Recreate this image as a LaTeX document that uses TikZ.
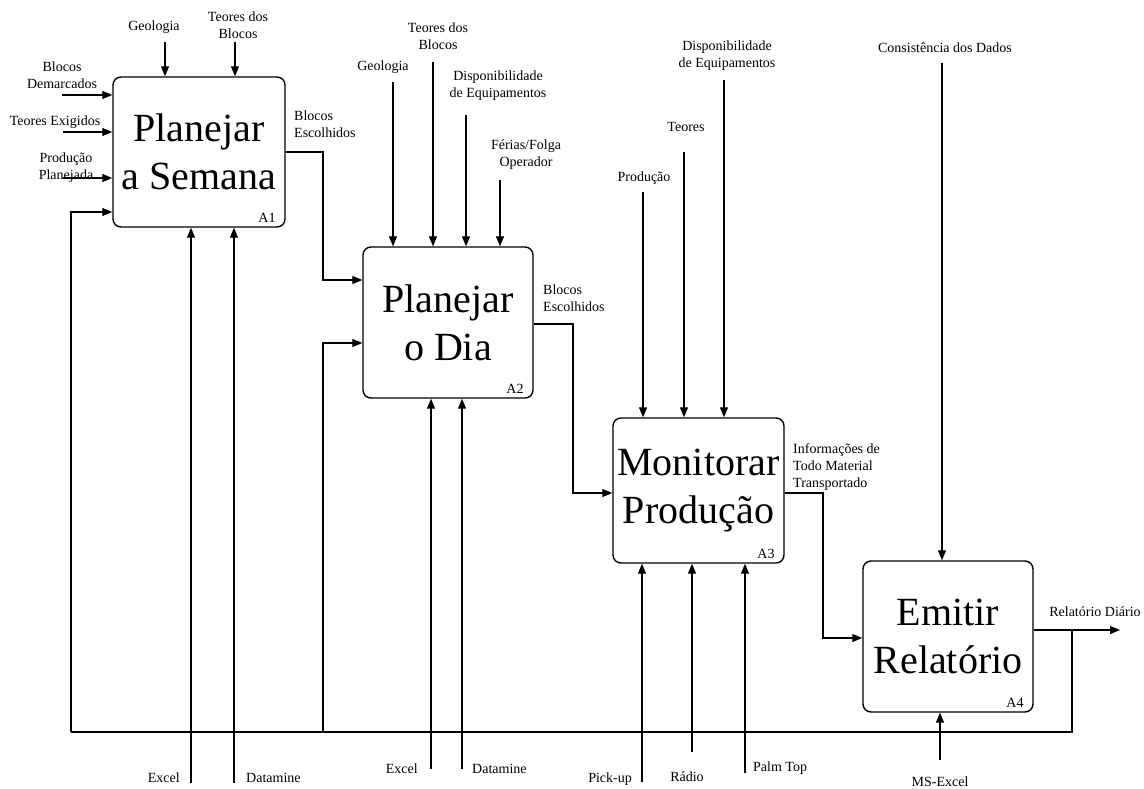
\documentclass[tikz,border=0pt]{standalone}
\usepackage{fontspec}
\setmainfont{Liberation Serif}
\usepackage{tikz}
\usetikzlibrary{arrows.meta,calc}
\tikzstyle{proc} = [rectangle, rounded corners=8pt, draw=black, line width=1.4pt, inner sep=0pt, align=center, font=\fontsize{40}{48}\selectfont]
\tikzstyle{lbl} = [inner sep=0pt, align=center, font=\fontsize{14}{17}\selectfont]
\tikzstyle{idx} = [inner sep=0pt, anchor=south east, font=\fontsize{14}{17}\selectfont]
\tikzstyle{arrow} = [line width=1.2pt,-{Triangle[length=10pt,width=8pt]}]
\tikzstyle{link} = [line width=1.2pt]
\begin{document}
\begin{tikzpicture}[x=1pt,y=-1pt]
\useasboundingbox (0,0) rectangle (1144,789);

% atividades
\node[proc, minimum width=172pt, minimum height=150pt] (a1) at (199,152) {Planejar\\a Semana};
\node[proc, minimum width=170pt, minimum height=151pt] (a2) at (448,322.5) {Planejar\\o Dia};
\node[proc, minimum width=171pt, minimum height=145pt] (a3) at (698.5,490.5) {Monitorar\\Produção};
\node[proc, minimum width=170pt, minimum height=151pt] (a4) at (948,636.5) {Emitir\\Relatório};
\node[idx] (a1id) at ([xshift=-10pt,yshift=5pt]a1.south east) {A1};
\node[idx] (a2id) at ([xshift=-10pt,yshift=5pt]a2.south east) {A2};
\node[idx] (a3id) at ([xshift=-10pt,yshift=5pt]a3.south east) {A3};
\node[idx] (a4id) at ([xshift=-10pt,yshift=5pt]a4.south east) {A4};

% A1
\node[lbl] (geo1) at (154,27) {Geologia};
\node[lbl] (teo1) at (238,25) {Teores dos\\Blocos};
\node[lbl] (dem1) at (62,75) {Blocos\\Demarcados};
\node[lbl] (exi1) at (55,122) {Teores Exigidos};
\node[lbl] (pla1) at (66,168) {Produção\\Planejada};
\node[lbl, anchor=west, align=left] (esc1) at (294,124) {Blocos\\Escolhidos};
\node[lbl, anchor=east] (exc1) at (180,778) {Excel};
\node[lbl, anchor=west] (dat1) at (246,778) {Datamine};
\coordinate (c11) at (165,42);
\coordinate (c12) at (235,42);
\coordinate (i11) at (62,95);
\coordinate (i12) at (63,132);
\coordinate (i13) at (63,178);
\coordinate (m11) at (191,783);
\coordinate (m12) at (234,783);
\draw[arrow] (c11) -- (c11 |- a1.north);
\draw[arrow] (c12) -- (c12 |- a1.north);
\draw[arrow] (i11) -- (i11 -| a1.west);
\draw[arrow] (i12) -- (i12 -| a1.west);
\draw[arrow] (i13) -- (i13 -| a1.west);
\draw[arrow] (m11) -- (m11 |- a1.south);
\draw[arrow] (m12) -- (m12 |- a1.south);
\coordinate (o1) at (323,152);
\coordinate (o1b) at (323,280);
\draw[arrow] (o1 -| a1.east) -- (o1) -- (o1b) -- (o1b -| a2.west);

% A2
\node[lbl] (geo2) at (383,67) {Geologia};
\node[lbl] (teo2) at (438,36) {Teores dos\\Blocos};
\node[lbl] (dis2) at (498,86) {Disponibilidade\\de Equipamentos};
\node[lbl] (fer2) at (526,155) {Férias/Folga\\Operador};
\node[lbl, anchor=west, align=left] (esc2) at (543,298) {Blocos\\Escolhidos};
\node[lbl, anchor=east] (exc2) at (418,769) {Excel};
\node[lbl, anchor=west] (dat2) at (472,769) {Datamine};
\coordinate (c21) at (393,82);
\coordinate (c22) at (433,62);
\coordinate (c23) at (466,115);
\coordinate (c24) at (500,180);
\coordinate (m21) at (431,769);
\coordinate (m22) at (462,769);
\draw[arrow] (c21) -- (c21 |- a2.north);
\draw[arrow] (c22) -- (c22 |- a2.north);
\draw[arrow] (c23) -- (c23 |- a2.north);
\draw[arrow] (c24) -- (c24 |- a2.north);
\draw[arrow] (m21) -- (m21 |- a2.south);
\draw[arrow] (m22) -- (m22 |- a2.south);
\coordinate (o2) at (573,324);
\coordinate (o2b) at (573,493);
\draw[arrow] (o2 -| a2.east) -- (o2) -- (o2b) -- (o2b -| a3.west);

% A3
\node[lbl] (pro3) at (644,178) {Produção};
\node[lbl] (teo3) at (686,127) {Teores};
\node[lbl] (dis3) at (727,56) {Disponibilidade\\de Equipamentos};
\node[lbl, anchor=west, align=left] (inf3) at (793,467) {Informações de\\Todo Material\\Transportado};
\node[lbl, anchor=east] (pic3) at (632,779) {Pick-up};
\node[lbl] (rad3) at (687,777) {Rádio};
\node[lbl, anchor=west] (pal3) at (753,768) {Palm Top};
\coordinate (c31) at (643,192);
\coordinate (c32) at (684,152);
\coordinate (c33) at (724,80);
\coordinate (m31) at (642,782);
\coordinate (m32) at (692,752);
\coordinate (m33) at (745,773);
\draw[arrow] (c31) -- (c31 |- a3.north);
\draw[arrow] (c32) -- (c32 |- a3.north);
\draw[arrow] (c33) -- (c33 |- a3.north);
\draw[arrow] (m31) -- (m31 |- a3.south);
\draw[arrow] (m32) -- (m32 |- a3.south);
\draw[arrow] (m33) -- (m33 |- a3.south);
\coordinate (o3) at (823,493);
\coordinate (o3b) at (823,638);
\draw[arrow] (o3 -| a3.east) -- (o3) -- (o3b) -- (o3b -| a4.west);

% A4
\node[lbl] (con4) at (945,48) {Consistência dos Dados};
\node[lbl] (rel4) at (1095,612) {Relatório Diário};
\node[lbl] (mse4) at (940,782) {MS-Excel};
\coordinate (c41) at (942,63);
\coordinate (m41) at (940,760);
\coordinate (out4) at (1120,630);
\draw[arrow] (c41) -- (c41 |- a4.north);
\draw[arrow] (m41) -- (m41 |- a4.south);
\draw[arrow] (out4 -| a4.east) -- (out4);

% realimentacao
\coordinate (tap) at (1072,630);
\coordinate (fbr) at (1072,732);
\coordinate (fbl) at (71,732);
\coordinate (fbm) at (323,732);
\coordinate (fb1) at (71,212);
\coordinate (fb2) at (323,343);
\draw[link] (tap) -- (fbr) -- (fbl);
\draw[arrow] (fbl) -- (fb1) -- (fb1 -| a1.west);
\draw[arrow] (fbm) -- (fb2) -- (fb2 -| a2.west);
\end{tikzpicture}
\end{document}
